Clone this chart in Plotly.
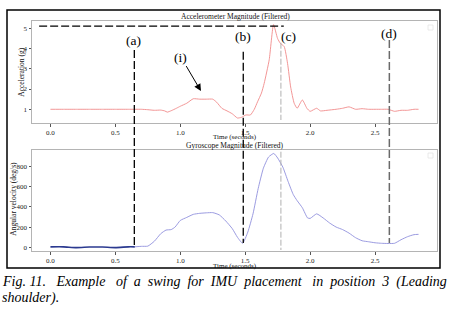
import plotly.graph_objects as go

W, H = 455, 313
def px(x): return x / W
def py(y): return 1 - y / H

# ---------------- data ----------------
acc_t = [0.0, 0.1, 0.2, 0.3, 0.4, 0.5, 0.6, 0.7, 0.75, 0.8, 0.85, 0.88, 0.9, 0.93, 0.97, 1.0, 1.05,
         1.1, 1.15, 1.2, 1.25, 1.28, 1.32, 1.36, 1.4, 1.44, 1.47, 1.505, 1.54, 1.57, 1.595, 1.625,
         1.646, 1.685, 1.718, 1.749, 1.77, 1.8, 1.826, 1.85, 1.877, 1.90, 1.94, 1.975, 2.0, 2.05,
         2.08, 2.13, 2.2, 2.25, 2.3, 2.35, 2.4, 2.45, 2.5, 2.55, 2.6, 2.65, 2.7, 2.75, 2.8, 2.835]
acc_g = [1.0, 1.0, 1.0, 1.0, 1.0, 1.0, 1.0, 1.0, 0.98, 0.95, 0.96, 0.92, 0.86, 0.93, 1.05, 1.15, 1.3,
         1.52, 1.5, 1.5, 1.5, 1.35, 1.05, 0.92, 0.78, 0.57, 0.6, 0.72, 0.72, 1.0, 1.37, 1.8,
         2.28, 3.45, 5.18, 4.5, 4.26, 4.1, 3.27, 2.1, 1.3, 1.05, 1.46, 1.05, 0.9, 1.05,
         0.92, 0.95, 1.0, 1.05, 1.12, 1.0, 1.03, 1.0, 1.0, 1.0, 1.0, 0.9, 0.95, 0.95, 1.0, 1.0]

gyr_t0 = [0.0, 0.1, 0.2, 0.3, 0.4, 0.5, 0.6, 0.65]
gyr_v0 = [5, 5, -3, 3, 3, -3, 5, 5]
gyr_t = [0.65, 0.7, 0.75, 0.8, 0.85, 0.89, 0.93, 0.96, 1.0, 1.05, 1.1, 1.15, 1.2, 1.25, 1.3, 1.35,
         1.4, 1.44, 1.48, 1.52, 1.56, 1.6, 1.64, 1.68, 1.72, 1.75, 1.79, 1.83, 1.87, 1.9, 1.94, 1.98,
         2.0, 2.05, 2.1, 2.15, 2.2, 2.25, 2.3, 2.35, 2.4, 2.45, 2.5, 2.55, 2.6, 2.65, 2.7, 2.75, 2.8, 2.835]
gyr_v = [5, 10, 12, 60, 135, 170, 175, 200, 265, 295, 325, 335, 340, 342, 320, 260,
         185, 100, 40, 150, 330, 580, 780, 890, 925, 880, 790, 650, 520, 460, 390, 290,
         285, 330, 290, 240, 200, 175, 140, 95, 65, 55, 45, 40, 38, 40, 75, 105, 125, 128]

x_ticks = [0.0, 0.5, 1.0, 1.5, 2.0, 2.5]
x_tick_labels = ["0.0", "0.5", "1.0", "1.5", "2.0", "2.5"]
acc_ticks = [1, 2, 3, 4, 5]
gyr_ticks = [0, 200, 400, 600, 800]

event_labels = ["(a)", "(b)", "(c)", "(d)"]
event_times = [0.646, 1.485, 1.775, 2.61]
peak_level = 5.11
annot_point = (1.159, 1.9)

N2, N3 = "\u00a0\u00a0", "\u00a0\u00a0\u00a0"
caption_line1 = ("Fig.\u00a011." + N3 + "Example" + N3 + "of" + N2 + "a" + N2 + "swing" + N2 + "for"
                 + N2 + "IMU" + N2 + "placement" + N3 + "in" + N2 + "position" + N2 + "3" + N2 + "(Leading")
caption_line2 = "shoulder)."

# ---------------- figure ----------------
SERIF = "Liberation Serif, Times New Roman, serif"
fig = go.Figure()
fig.add_trace(go.Scatter(x=acc_t, y=acc_g, mode="lines", xaxis="x", yaxis="y",
                         line=dict(color="#f08a8a", width=0.9, shape="spline", smoothing=0.5),
                         showlegend=False, hoverinfo="skip"))
fig.add_trace(go.Scatter(x=gyr_t0, y=gyr_v0, mode="lines", xaxis="x2", yaxis="y2",
                         line=dict(color="#2b3a90", width=1.6, shape="spline", smoothing=0.5),
                         showlegend=False, hoverinfo="skip"))
fig.add_trace(go.Scatter(x=gyr_t, y=gyr_v, mode="lines", xaxis="x2", yaxis="y2",
                         line=dict(color="#9090dc", width=0.9, shape="spline", smoothing=0.5),
                         showlegend=False, hoverinfo="skip"))

xr = [-0.142, 2.977]
axis_common = dict(showline=True, mirror=True, linecolor="#b4b4b4", linewidth=1,
                   ticks="outside", ticklen=2.5, tickcolor="#555", tickwidth=0.8,
                   showgrid=False, zeroline=False,
                   tickfont=dict(family=SERIF, size=7, color="#222"))
fig.update_layout(
    width=W, height=H, margin=dict(l=0, r=0, t=0, b=0),
    paper_bgcolor="white", plot_bgcolor="white",
    xaxis=dict(domain=[px(32), px(437)], anchor="y", range=xr, tickvals=x_ticks,
               ticktext=x_tick_labels, **axis_common),
    yaxis=dict(domain=[py(123), py(21)], anchor="x", range=[0.323, 5.36],
               tickvals=acc_ticks, **axis_common),
    xaxis2=dict(domain=[px(32), px(437)], anchor="y2", range=xr, tickvals=x_ticks,
                ticktext=x_tick_labels, **axis_common),
    yaxis2=dict(domain=[py(251), py(149.5)], anchor="x2", range=[-36, 964],
                tickvals=gyr_ticks, **axis_common),
)

shapes = []
shapes.append(dict(type="rect", xref="paper", yref="paper", x0=px(7), x1=px(440),
                   y0=py(268), y1=py(10), line=dict(color="black", width=1.5)))
for (lx, ly) in [(428, 25), (428, 153)]:
    shapes.append(dict(type="rect", xref="paper", yref="paper", x0=px(lx), x1=px(lx + 5),
                       y0=py(ly + 5), y1=py(ly), line=dict(color="#e4e4e4", width=0.8)))
shapes.append(dict(type="line", xref="x", yref="y", x0=-0.087, x1=1.797,
                   y0=peak_level, y1=peak_level, line=dict(color="black", width=1.3, dash="8px,3px")))
ta, tb, tc, td = event_times
shapes.append(dict(type="line", xref="x", yref="paper", x0=ta, x1=ta, y0=py(50), y1=py(247),
                   line=dict(color="black", width=1.3, dash="8px,3px")))
shapes.append(dict(type="line", xref="x", yref="paper", x0=tb, x1=tb, y0=py(51.7), y1=py(243),
                   line=dict(color="black", width=1.3, dash="8px,3px")))
shapes.append(dict(type="line", xref="x", yref="paper", x0=tc, x1=tc, y0=py(42.7), y1=py(120),
                   line=dict(color="#b0b0b0", width=1.0, dash="6px,2px")))
shapes.append(dict(type="line", xref="x", yref="paper", x0=tc, x1=tc, y0=py(151.7), y1=py(250),
                   line=dict(color="#b0b0b0", width=1.0, dash="6px,2px")))
shapes.append(dict(type="line", xref="x", yref="paper", x0=td, x1=td, y0=py(40), y1=py(243),
                   line=dict(color="#6a6a6a", width=1.5, dash="8px,3px")))
fig.update_layout(shapes=shapes)

ann = []
def txt(x, y, s, size, **kw):
    d = dict(xref="paper", yref="paper", x=px(x), y=py(y), text=s, showarrow=False,
             font=dict(family=kw.pop("family", SERIF), size=size, color=kw.pop("color", "#111")),
             xanchor=kw.pop("xanchor", "center"), yanchor=kw.pop("yanchor", "middle"),
             borderpad=0)
    d.update(kw)
    ann.append(d)

txt(235, 16, "Accelerometer Magnitude (Filtered)", 7.5)
txt(235, 145.8, "Gyroscope Magnitude (Filtered)", 7.5)
txt(235, 137.2, "Time (seconds)", 7)
txt(235, 266, "Time (seconds)", 7)
txt(20.7, 72, "Acceleration (g)", 7.5, textangle=-90)
txt(12.7, 199, "Angular velocity (deg/s)", 7.5, textangle=-90)

for lab, (lx, ly) in zip(event_labels, [(133.5, 40), (243, 37), (288, 37), (388.5, 33)]):
    txt(lx, ly, lab, 13.5, color="black")

ann.append(dict(xref="x", yref="y", x=annot_point[0], y=annot_point[1], text="(i)",
                showarrow=True, ax=-20, ay=-34, arrowhead=2, arrowsize=1.4, arrowwidth=1,
                arrowcolor="black", standoff=0,
                font=dict(family=SERIF, size=13.5, color="black")))

txt(1, 282, f"<i>{caption_line1}</i>", 14, xanchor="left", color="black")
txt(1, 298, f"<i>{caption_line2}</i>", 14, xanchor="left", color="black")
fig.update_layout(annotations=ann)

fig.write_html("out.html", config={"displayModeBar": False},
               post_script="document.body.style.margin='0';document.body.style.padding='0';")
